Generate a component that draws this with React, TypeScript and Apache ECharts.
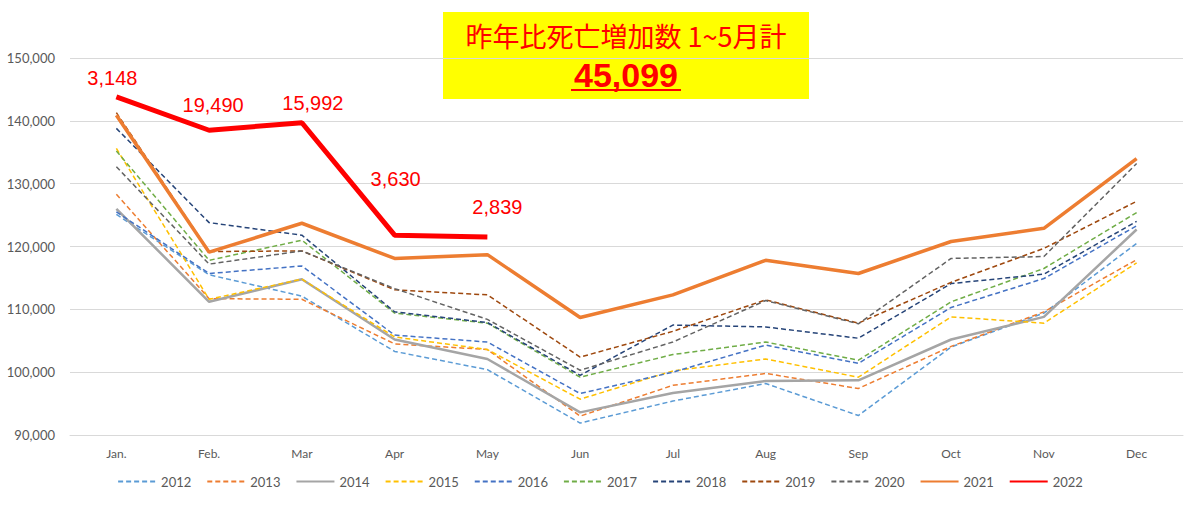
import React, { useEffect, useRef } from "react";
import * as echarts from "echarts";

const months = ["Jan.", "Feb.", "Mar", "Apr", "May", "Jun", "Jul", "Aug", "Sep", "Oct", "Nov", "Dec"];

const y2012 = [125100, 115500, 112100, 103300, 100400, 91900, 95400, 98200, 93100, 104000, 109400, 120500];
const y2013 = [128300, 111700, 111600, 104500, 103600, 93000, 97900, 99800, 97400, 104100, 109600, 117900];
const y2014 = [126000, 111200, 114800, 105200, 102100, 93600, 96700, 98600, 98700, 105200, 108800, 122700];
const y2015 = [135600, 111600, 114800, 105600, 103600, 95700, 100200, 102100, 99200, 108800, 107800, 117400];
const y2016 = [125500, 115700, 116900, 105900, 104800, 96600, 100000, 104300, 101400, 110300, 114900, 123300];
const y2017 = [135200, 117800, 121000, 109400, 107800, 99200, 102800, 104800, 101900, 111200, 116500, 125400];
const y2018 = [138800, 123800, 121800, 109600, 107900, 99500, 107500, 107200, 105400, 114100, 115600, 124000];
const y2019 = [141300, 119200, 119300, 113100, 112300, 102400, 106500, 111500, 107800, 114300, 119700, 127200];
const y2020 = [132700, 117200, 119300, 113300, 108400, 100300, 104800, 111400, 107700, 118100, 118400, 133200];
const y2021 = [140900, 119100, 123700, 118100, 118700, 108700, 112300, 117800, 115700, 120800, 122900, 134000];
const y2022 = [143800, 138500, 139700, 121800, 121500];

const redLabels = ["3,148", "19,490", "15,992", "3,630", "2,839"];

const titleLine1 = "昨年比死亡増加数 1~5月計";
const titleLine2 = "45,099";

const years = ["2012", "2013", "2014", "2015", "2016", "2017", "2018", "2019", "2020", "2021", "2022"];

export default function App() {
  const ref = useRef<HTMLDivElement>(null);

  useEffect(() => {
    if (!ref.current) return;
    const chart = echarts.init(ref.current, null, { renderer: "svg" });

    const dash = [5, 3];
    const styles: Record<string, any> = {
      "2012": { color: "#5B9BD5", width: 1.5, type: dash },
      "2013": { color: "#ED7D31", width: 1.5, type: dash },
      "2014": { color: "#A5A5A5", width: 2.5, type: "solid" },
      "2015": { color: "#FFC000", width: 1.5, type: dash },
      "2016": { color: "#4472C4", width: 1.5, type: dash },
      "2017": { color: "#70AD47", width: 1.5, type: dash },
      "2018": { color: "#264478", width: 1.5, type: dash },
      "2019": { color: "#9E480E", width: 1.5, type: dash },
      "2020": { color: "#636363", width: 1.5, type: dash },
      "2021": { color: "#ED7D31", width: 3.5, type: "solid" },
      "2022": { color: "#FF0000", width: 5, type: "solid" },
    };
    const dataMap: Record<string, number[]> = {
      "2012": y2012, "2013": y2013, "2014": y2014, "2015": y2015, "2016": y2016,
      "2017": y2017, "2018": y2018, "2019": y2019, "2020": y2020, "2021": y2021, "2022": y2022,
    };
    const labelOffsets = [[-4, -9], [4, -15], [11, -10], [1, -46], [10, -20]];

    const series = years.map((yr) => {
      const st = styles[yr];
      const base: any = {
        name: yr,
        type: "line",
        symbol: "none",
        z: yr === "2022" ? 10 : yr === "2021" ? 8 : 2,
        lineStyle: { color: st.color, width: st.width, type: st.type },
        itemStyle: { color: st.color },
        data: dataMap[yr],
      };
      if (yr === "2022") {
        base.symbol = "circle";
        base.symbolSize = 0;
        base.showSymbol = true;
        base.data = y2022.map((v, i) => ({
          value: v,
          label: {
            show: true,
            position: "top",
            distance: 0,
            offset: labelOffsets[i],
            formatter: redLabels[i],
            color: "#FF0000",
            fontSize: 20,
            fontFamily: "Liberation Sans, Arial, sans-serif",
          },
        }));
      }
      return base;
    });

    const option: any = {
      animation: false,
      backgroundColor: "#ffffff",
      grid: { left: 70, right: 17, top: 58, bottom: 70, containLabel: false },
      xAxis: {
        type: "category",
        data: months,
        boundaryGap: true,
        axisLine: { show: true, lineStyle: { color: "#d9d9d9" } },
        axisTick: { show: false },
        axisLabel: { color: "#595959", fontSize: 12, margin: 12, fontFamily: "Lato, sans-serif" },
      },
      yAxis: {
        type: "value",
        min: 90000,
        max: 150000,
        interval: 10000,
        axisLine: { show: false },
        axisTick: { show: false },
        axisLabel: {
          color: "#595959",
          fontSize: 13,
          margin: 15,
          fontFamily: "Lato, sans-serif",
          formatter: (v: number) => v.toLocaleString("en-US"),
        },
        splitLine: { lineStyle: { color: "#d9d9d9", width: 1 } },
      },
      legend: {
        bottom: 12,
        left: "center",
        itemWidth: 38,
        itemHeight: 10,
        itemGap: 15,
        itemStyle: { opacity: 0 },
        textStyle: { color: "#595959", fontSize: 13, fontFamily: "Lato, sans-serif" },
        data: years,
      },
      graphic: [
        {
          type: "group",
          left: 443,
          top: 12,
          children: [
            { type: "rect", shape: { x: 0, y: 0, width: 366, height: 87 }, style: { fill: "#FFFF00" } },
            {
              type: "text",
              x: 183,
              y: 23,
              style: {
                text: titleLine1,
                fill: "#FF0000",
                font: "27px 'Noto Sans CJK JP', sans-serif",
                textAlign: "center",
                textVerticalAlign: "middle",
              },
            },
            {
              type: "text",
              x: 183,
              y: 63,
              style: {
                text: titleLine2,
                fill: "#FF0000",
                font: "bold 34px 'Liberation Sans', Arial, sans-serif",
                textAlign: "center",
                textVerticalAlign: "middle",
              },
            },
            { type: "line", shape: { x1: 128, y1: 78, x2: 238, y2: 78 }, style: { stroke: "#FF0000", lineWidth: 2 } },
          ],
        },
      ],
      series,
    };

    chart.setOption(option);
    return () => chart.dispose();
  }, []);

  return (
    <div
      style={{
        position: "fixed",
        left: 0,
        top: 0,
        width: 1200,
        height: 505,
        boxSizing: "border-box",
        border: "2px solid #d9d9d9",
        background: "#fff",
      }}
    >
      <div ref={ref} style={{ position: "absolute", left: -2, top: -2, width: 1200, height: 505 }} />
    </div>
  );
}
